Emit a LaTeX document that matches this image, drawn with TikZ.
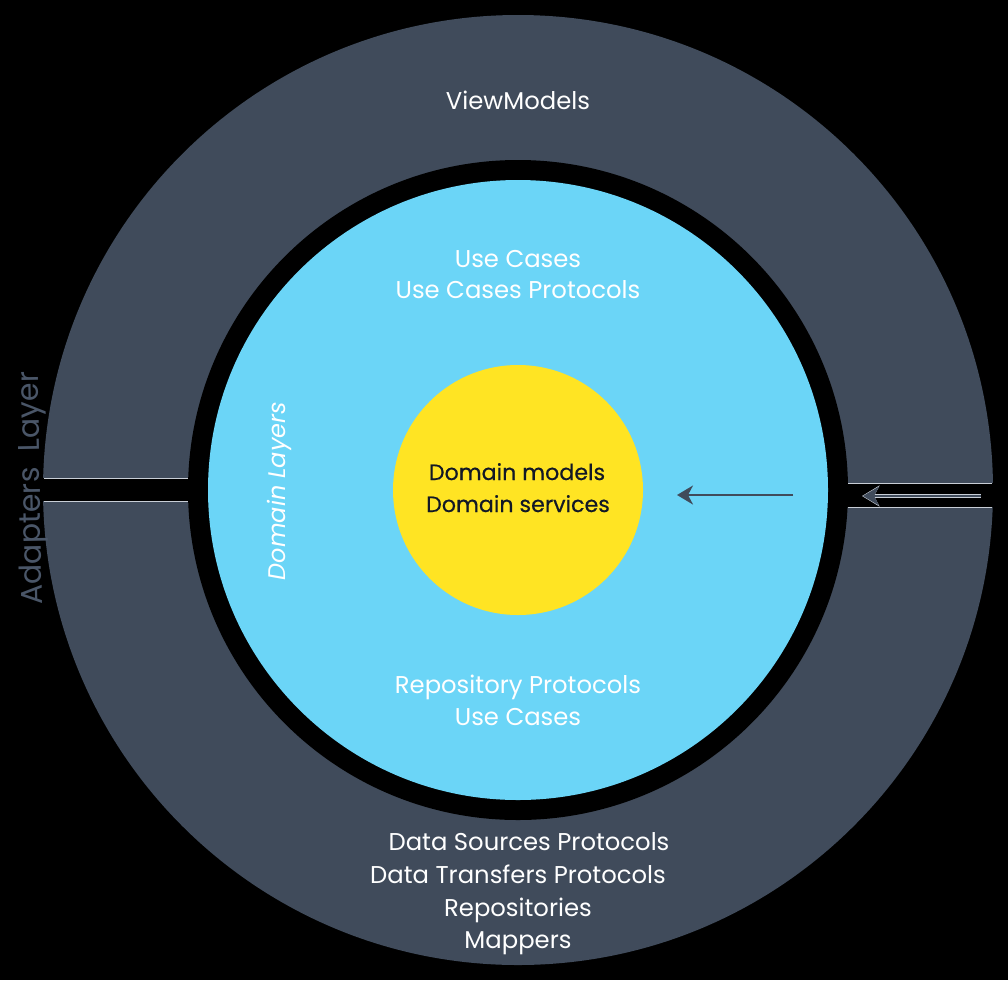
\documentclass[tikz,border=0pt]{standalone}
\usepackage{fontspec}
\setmainfont{Poppins}
\newfontfamily\medfont{Poppins}[FakeBold=0.5]
\usetikzlibrary{arrows.meta}
\definecolor{ringc}{RGB}{64,75,91}
\definecolor{bluec}{RGB}{107,213,247}
\definecolor{yellowc}{RGB}{255,228,35}
\definecolor{darkt}{RGB}{18,24,38}
\definecolor{adaptc}{RGB}{74,86,104}
\definecolor{edgec}{RGB}{200,206,214}
\begin{document}
\begin{tikzpicture}[x=1pt,y=-1pt,
  lbl/.style={anchor=base,text=white,font=\fontsize{24.3}{28}\selectfont,inner sep=0pt},
  dlbl/.style={anchor=base,text=darkt,font=\medfont\fontsize{22.2}{28}\selectfont,inner sep=0pt},
  arr/.style={draw=ringc,line width=2pt,-{Stealth[length=16pt,width=19pt,inset=5pt]}}]
\useasboundingbox (0,0) rectangle (1008,980);
\fill[black] (0,0) rectangle (1008,980);
% rings
\fill[ringc] (518,490) circle[radius=475];
\fill[black] (518,490) circle[radius=330];
% gaps
\fill[black] (30,478) rectangle (200,501);
\fill[black] (836,483) rectangle (1000,507);
\draw[edgec,line width=0.8pt] (44,478) -- (188,478) (44,501) -- (188,501);
\draw[edgec,line width=0.8pt] (848,483) -- (992,483) (848,507) -- (992,507);
\fill[bluec] (518,490) circle[radius=310];
\node[circle,fill=yellowc,minimum size=250pt,inner sep=0pt] (core) at (518,490) {};
% texts
\node[lbl] (vm) at (518,109) {ViewModels};
\node[lbl] (uc1) at (518,267) {Use Cases};
\node[lbl] (uc2) at (518,298) {Use Cases Protocols};
\node[dlbl] (dm) at (517,480) {Domain models};
\node[dlbl] (ds) at (518,512) {Domain services};
\node[lbl] (rp) at (518,693) {Repository Protocols};
\node[lbl] (uc3) at (518,725) {Use Cases};
\node[lbl] (dsp) at (529,850) {Data Sources Protocols};
\node[lbl] (dtp) at (518,883) {Data Transfers Protocols};
\node[lbl] (rep) at (518,916) {Repositories};
\node[lbl] (map) at (518,948) {Mappers};
\node[anchor=base,rotate=90,text=white,inner sep=0pt,font=\fontsize{24}{28}\selectfont\itshape] (dl) at (285,491) {Domain Layers};
\node[anchor=base,rotate=91,text=adaptc,inner sep=0pt,font=\fontsize{30}{34}\selectfont] (al) at (40,488) {Adapters\ \ Layer};
% arrows
\coordinate (a1s) at (981,496);
\coordinate (a1e) at (863,496);
\coordinate (a2s) at (793,495);
\coordinate (a2e) at (677,495);
\draw[edgec,line width=3.6pt,-{Stealth[length=17.5pt,width=21pt,inset=5.5pt]}] (a1s) -- ([xshift=-1pt]a1e);
\draw[arr,line width=1.6pt] (a1s) -- (a1e);
\draw[arr] (a2s) -- (a2e);
\end{tikzpicture}
\end{document}
